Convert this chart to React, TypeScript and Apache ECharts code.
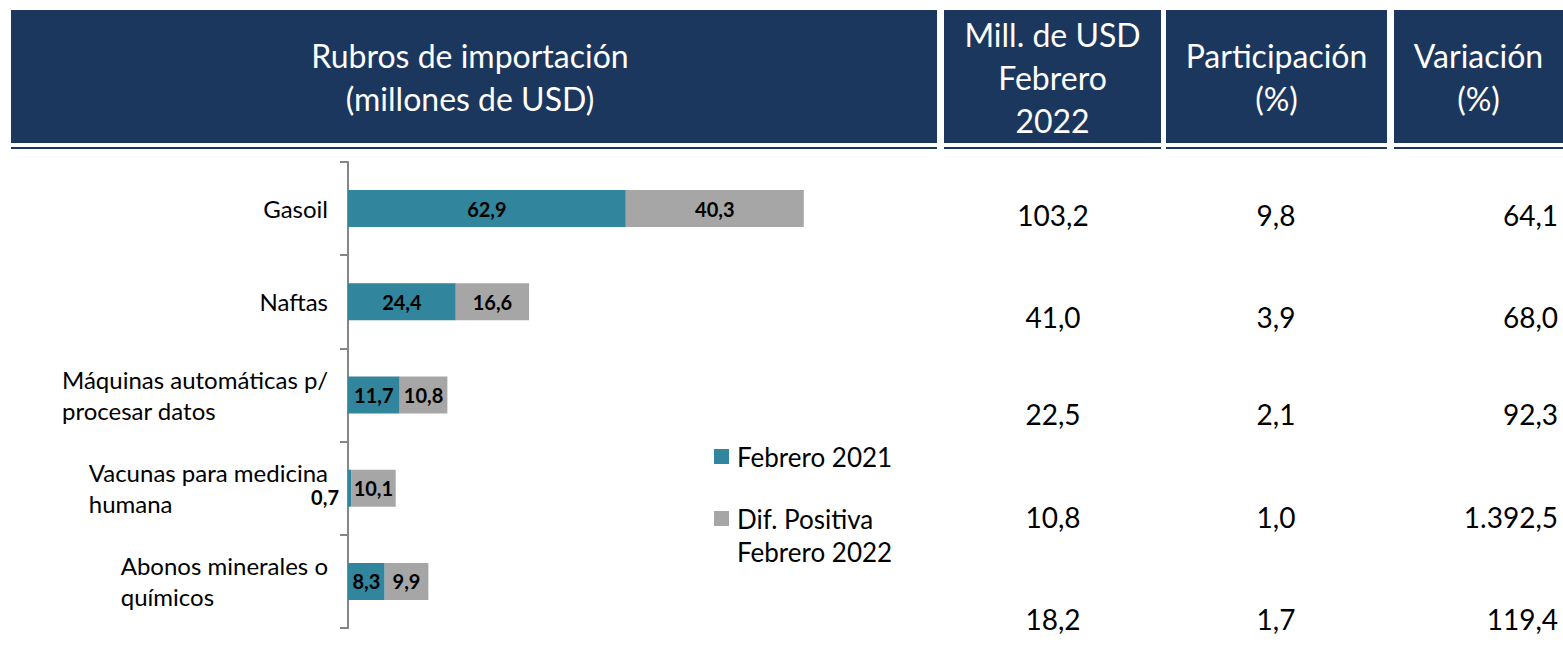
import React, { useEffect, useRef } from "react";
import * as echarts from "echarts";

const categories = [
  "Gasoil",
  "Naftas",
  "Máquinas automáticas p/\nprocesar datos",
  "Vacunas para medicina\nhumana",
  "Abonos minerales o\nquímicos",
];
const febrero2021 = [62.9, 24.4, 11.7, 0.7, 8.3];
const difPositiva2022 = [40.3, 16.6, 10.8, 10.1, 9.9];

const millUsdFeb2022 = ["103,2", "41,0", "22,5", "10,8", "18,2"];
const participacion = ["9,8", "3,9", "2,1", "1,0", "1,7"];
const variacion = ["64,1", "68,0", "92,3", "1.392,5", "119,4"];

const headerTexts = [
  "Rubros de importación\n(millones de USD)",
  "Mill. de USD\nFebrero\n2022",
  "Participación\n(%)",
  "Variación\n(%)",
];

const NAVY = "#1b375e";
const TEAL = "#31859c";
const GRAY = "#a6a6a6";
const FONT = "Lato";

// layout
const headerBoxes = [
  { x: 11, w: 926 },
  { x: 944, w: 217 },
  { x: 1166, w: 221 },
  { x: 1394, w: 169 },
];
const rowY = [215, 317, 414, 517, 619];

const fmt = (v: number) => v.toFixed(1).replace(".", ",");

export default function App() {
  const ref = useRef<HTMLDivElement>(null);
  useEffect(() => {
    if (!ref.current) return;
    const chart = echarts.init(ref.current, null, { renderer: "svg" });

    const graphics: any[] = [];
    headerBoxes.forEach((b, i) => {
      graphics.push({
        type: "rect",
        shape: { x: b.x, y: 10, width: b.w, height: 133 },
        style: { fill: NAVY },
      });
      graphics.push({
        type: "rect",
        shape: { x: b.x, y: 147, width: b.w, height: 2 },
        style: { fill: NAVY },
      });
      graphics.push({
        type: "text",
        x: i === 0 ? 470 : b.x + b.w / 2,
        y: 77,
        style: {
          text: headerTexts[i],
          fill: "#fff",
          font: `32px ${FONT}`,
          lineHeight: 43,
          textAlign: "center",
          textVerticalAlign: "middle",
        },
      });
    });
    const colText = (vals: string[], x: number, align: string) =>
      vals.forEach((t, i) =>
        graphics.push({
          type: "text",
          x,
          y: rowY[i],
          style: {
            text: t,
            fill: "#000",
            font: `28px ${FONT}`,
            textAlign: align,
            textVerticalAlign: "middle",
          },
        })
      );
    colText(millUsdFeb2022, 1053, "center");
    colText(participacion, 1276, "center");
    colText(variacion, 1558, "right");

    const labelCommon = {
      show: true,
      position: "inside",
      color: "#000",
      fontFamily: FONT,
      fontWeight: "bold",
      fontSize: 20,
      formatter: (p: any) => fmt(p.value),
    };

    chart.setOption({
      animation: false,
      backgroundColor: "#fff",
      grid: { left: 348, top: 162, width: 530, height: 466, containLabel: false },
      xAxis: {
        type: "value",
        min: 0,
        max: 120,
        show: false,
      },
      yAxis: {
        type: "category",
        inverse: true,
        data: categories,
        axisLine: { show: true, lineStyle: { color: "#868686", width: 2 } },
        axisTick: { show: true, length: 8, lineStyle: { color: "#868686", width: 2 } },
        axisLabel: {
          margin: 20,
          formatter: (v: string) => `{l|${v}}`,
          rich: {
            l: {
              align: "left",
              fontSize: 24,
              fontFamily: FONT,
              color: "#000",
              lineHeight: 31,
            },
          },
        },
        splitLine: { show: false },
      },
      legend: {
        orient: "vertical",
        left: 714,
        top: 440,
        padding: 0,
        itemWidth: 15,
        itemHeight: 15,
        itemGap: -4,
        icon: "rect",
        selectedMode: false,
        formatter: (n: string) =>
          n === "Dif. Positiva Febrero 2022" ? "\nDif. Positiva\nFebrero 2022" : n,
        textStyle: {
          fontSize: 26,
          fontFamily: FONT,
          color: "#000",
          lineHeight: 33,
          padding: [0, 0, 0, 3],
        },
        data: [{ name: "Febrero 2021" }, { name: "Dif. Positiva Febrero 2022" }],
      },
      series: [
        {
          name: "Febrero 2021",
          type: "bar",
          stack: "total",
          barWidth: 37,
          itemStyle: { color: TEAL },
          label: labelCommon,
          data: febrero2021.map((v) =>
            v < 2
              ? { value: v, label: { position: "left", distance: 9, offset: [0, 9] } }
              : v
          ),
        },
        {
          name: "Dif. Positiva Febrero 2022",
          type: "bar",
          stack: "total",
          barWidth: 37,
          itemStyle: { color: GRAY },
          label: labelCommon,
          data: difPositiva2022,
        },
      ],
      graphic: graphics,
    });
    return () => chart.dispose();
  }, []);
  return (
    <div
      ref={ref}
      style={{ position: "absolute", left: 0, top: 0, width: 1563, height: 647 }}
    />
  );
}
